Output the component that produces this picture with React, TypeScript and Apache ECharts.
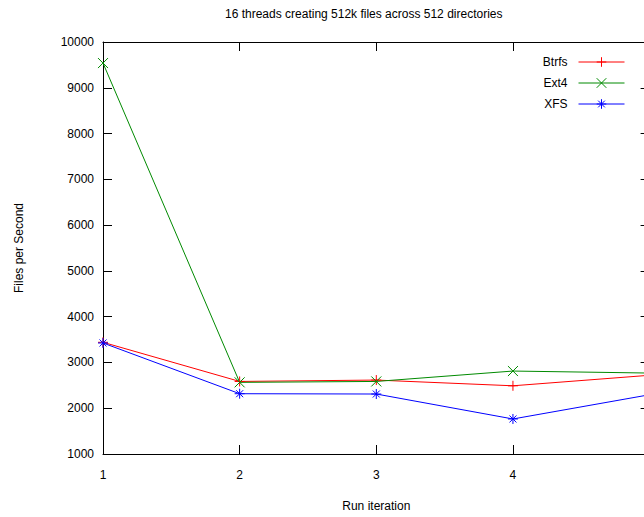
import React, { useEffect, useRef } from "react";
import * as echarts from "echarts";

const titleText = "16 threads creating 512k files across 512 directories";
const xName = "Run iteration";
const yName = "Files per Second";
const iterations = [1, 2, 3, 4, 5];
const btrfs = [3440, 2585, 2615, 2490, 2720];
const ext4 = [9540, 2565, 2585, 2812, 2768];
const xfs = [3425, 2317, 2310, 1765, 2295];

const seriesNames = ["Btrfs", "Ext4", "XFS"];
const seriesColors = ["#ff0000", "#008a00", "#0000ff"];
const seriesSymbols = [
  "path://M0,5L10,5M5,0L5,10",
  "path://M0,0L10,10M0,10L10,0",
  "path://M0,5L10,5M5,0L5,10M1.5,1.5L8.5,8.5M1.5,8.5L8.5,1.5",
];

const CHART_W = 670;

export default function App() {
  const ref = useRef<HTMLDivElement>(null);
  useEffect(() => {
    if (!ref.current) return;
    const chart = echarts.init(ref.current, null, { renderer: "svg" });
    const font = "'Liberation Sans', Arial, sans-serif";
    const allData = [btrfs, ext4, xfs];
    const axisLine = { show: true, lineStyle: { color: "#000", width: 1 } };
    chart.setOption({
      animation: false,
      backgroundColor: "#fff",
      textStyle: { fontFamily: font },
      title: {
        text: titleText,
        left: 220,
        top: 3,
        textStyle: { fontSize: 12, fontWeight: "normal", color: "#000", fontFamily: font },
      },
      legend: {
        orient: "vertical",
        right: CHART_W - 630,
        top: 51,
        align: "right",
        itemWidth: 46,
        itemHeight: 12,
        itemGap: 9,
        lineStyle: { width: 1 },
        itemStyle: { borderWidth: 1 },
        textStyle: { fontSize: 12, color: "#000", fontFamily: font, padding: [0, 6, 0, 0] },
        data: seriesNames,
      },
      grid: { left: 103, right: CHART_W - 649.6, top: 42, bottom: 63 },
      xAxis: [
        {
          type: "value",
          min: 1,
          max: 5,
          interval: 1,
          name: xName,
          nameLocation: "middle",
          nameGap: 46,
          nameTextStyle: { fontSize: 12, color: "#000", fontFamily: font },
          axisLine,
          axisTick: { show: true, inside: true, length: 9, lineStyle: { color: "#000" } },
          axisLabel: {
            fontSize: 12,
            color: "#000",
            margin: 15,
            fontFamily: font,
            showMaxLabel: false,
          },
          splitLine: { show: false },
        },
        {
          type: "value",
          position: "top",
          min: 1,
          max: 5,
          interval: 1,
          axisLine,
          axisTick: { show: true, inside: true, length: 9, lineStyle: { color: "#000" } },
          axisLabel: { show: false },
          splitLine: { show: false },
        },
      ],
      yAxis: [
        {
          type: "value",
          min: 1000,
          max: 10000,
          interval: 1000,
          name: yName,
          nameLocation: "middle",
          nameGap: 78,
          nameTextStyle: { fontSize: 12, color: "#000", fontFamily: font },
          axisLine,
          axisTick: { show: true, inside: true, length: 9, lineStyle: { color: "#000" } },
          axisLabel: {
            fontSize: 12,
            color: "#000",
            margin: 9,
            fontFamily: font,
            formatter: (v: number) => String(v),
          },
          splitLine: { show: false },
        },
        {
          type: "value",
          position: "right",
          min: 1000,
          max: 10000,
          interval: 1000,
          axisLine,
          axisTick: { show: true, inside: true, length: 9, lineStyle: { color: "#000" } },
          axisLabel: { show: false },
          splitLine: { show: false },
        },
      ],
      series: seriesNames.map((name, i) => ({
        name,
        type: "line",
        xAxisIndex: 0,
        yAxisIndex: 0,
        data: iterations.map((x, j) => [x, allData[i][j]]),
        symbol: seriesSymbols[i],
        symbolSize: 10,
        showSymbol: true,
        lineStyle: { color: seriesColors[i], width: 1 },
        itemStyle: { color: seriesColors[i], borderColor: seriesColors[i], borderWidth: 1 },
        emphasis: { disabled: true },
      })),
    });
    return () => chart.dispose();
  }, []);
  return (
    <div
      style={{
        position: "absolute",
        left: 0,
        top: 0,
        width: 644,
        height: 517,
        overflow: "hidden",
      }}
    >
      <div ref={ref} style={{ width: CHART_W, height: 517 }} />
    </div>
  );
}
